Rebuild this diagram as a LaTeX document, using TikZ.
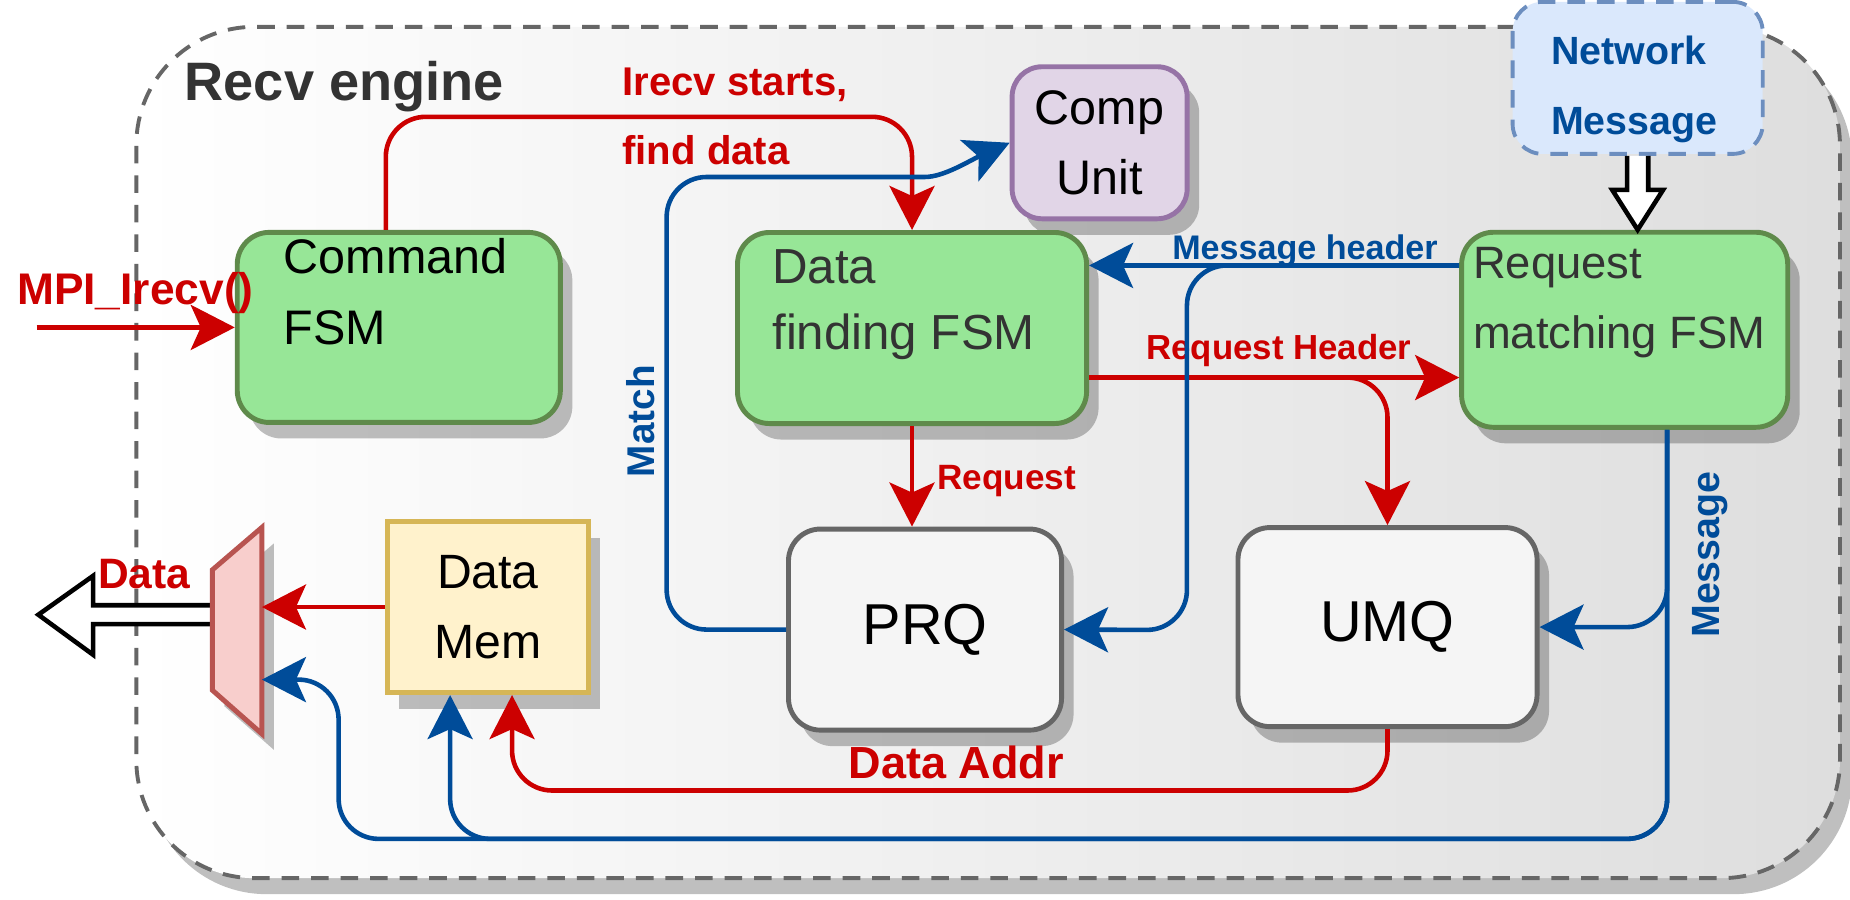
\documentclass[tikz,border=0pt]{standalone}
\usepackage{fontspec}
\setmainfont{Liberation Sans}
\usetikzlibrary{arrows.meta,shadows}

\definecolor{recvred}{HTML}{CC0000}
\definecolor{recvblue}{HTML}{004C99}
\definecolor{textgray}{HTML}{333333}
\definecolor{engline}{HTML}{666666}
\definecolor{fsmfill}{HTML}{97E697}
\definecolor{fsmline}{HTML}{5F8A4B}
\definecolor{netfill}{HTML}{DAE8FC}
\definecolor{netline}{HTML}{6C8EBF}
\definecolor{cufill}{HTML}{E1D5E7}
\definecolor{culine}{HTML}{9673A6}
\definecolor{qfill}{HTML}{F5F5F5}
\definecolor{qline}{HTML}{666666}
\definecolor{memfill}{HTML}{FFF2CC}
\definecolor{memline}{HTML}{D6B656}
\definecolor{muxfill}{HTML}{F8CECC}
\definecolor{muxline}{HTML}{B85450}

\newcommand{\fsz}[2]{\fontsize{#1pt}{#2pt}\selectfont}

\begin{document}
\begin{tikzpicture}[
		x=0.0118cm, y=-0.0118cm,
		>={Stealth[length=0.44cm, width=0.45cm, inset=0.1cm]},
		boxshadow/.style={drop shadow={shadow xshift=0.12cm, shadow yshift=-0.16cm, fill=black, opacity=0.25}},
		engine/.style={draw=engline, line width=1.1pt, dash pattern=on 5pt off 3.4pt, rounded corners=1.18cm, left color=white, right color=black!13, boxshadow},
		netbox/.style={draw=netline, fill=netfill, line width=1.1pt, dash pattern=on 5pt off 3.4pt, rounded corners=0.3cm},
		fsm/.style={draw=fsmline, fill=fsmfill, line width=1.4pt, rounded corners=0.32cm, boxshadow},
		fsmtext/.style={anchor=base west, align=left, inner sep=0pt, text=textgray},
		cubox/.style={draw=culine, fill=cufill, line width=1.4pt, rounded corners=0.3cm, boxshadow},
		queue/.style={draw=qline, fill=qfill, line width=1.4pt, rounded corners=0.32cm, boxshadow, font=\fsz{16.4}{19}},
		membox/.style={draw=memline, fill=memfill, line width=1.4pt, boxshadow},
		muxbox/.style={draw=muxline, fill=muxfill, line width=1.4pt, line join=miter, boxshadow},
		hollow/.style={draw=black, fill=white, line width=1.3pt, line join=miter},
		redcon/.style={draw=recvred, line width=1.3pt, rounded corners=0.4cm, ->},
		bluecon/.style={draw=recvblue, line width=1.3pt, rounded corners=0.4cm, ->},
		redlbl/.style={text=recvred, inner sep=0pt, anchor=base west, align=left},
		bluelbl/.style={text=recvblue, inner sep=0pt}
	]
  \useasboundingbox (0,0) rectangle (1568,762.5);

  % engine frame
  \node (engine) [engine, minimum width=17.03cm, minimum height=8.51cm] at (837.5,383.5) {};
  \node (recv-txt) [anchor=base west, inner sep=0pt, text=textgray, font=\bfseries\fsz{15.4}{18}] at (156,85) {Recv engine};

  % blocks (base of the text = last line)
  \node (net) [netbox, minimum width=2.5cm, minimum height=1.52cm] at (1388,66) {};
  \node (net-txt) [anchor=base west, align=left, inner sep=0pt, text=recvblue, font=\bfseries\fsz{11.2}{19.8}] at (1314,114) {Network\\Message};
  \node (cu) [cubox, minimum width=1.75cm, minimum height=1.52cm, align=center, font=\fsz{13.8}{19.8}] at (932,121) {Comp\\Unit};
  \node (cmd) [fsm, minimum width=3.23cm, minimum height=1.9cm] at (338,277.5) {};
  \node (cmd-txt) [fsmtext, text=black, font=\fsz{13.8}{20.1}] at (240,292) {Command\\FSM};
  \node (dff) [fsm, minimum width=3.49cm, minimum height=1.91cm] at (773,278) {};
  \node (dff-txt) [fsmtext, font=\fsz{14}{18.8}] at (654,296) {Data\\finding FSM};
  \node (rmf) [fsm, minimum width=3.26cm, minimum height=1.95cm] at (1377,279.5) {};
  \node (rmf-txt) [fsmtext, font=\fsz{12.9}{19.9}] at (1248,295) {Request\\matching FSM};
  \node (prq) [queue, minimum width=2.73cm, minimum height=2.01cm] at (784,533.6) {PRQ};
  \node (umq) [queue, minimum width=2.99cm, minimum height=1.99cm] at (1176,531.5) {UMQ};
  \node (dmem) [membox, minimum width=2.01cm, minimum height=1.71cm, align=center, font=\fsz{13.7}{19.9}] at (413.5,514.5) {Data\\Mem};

  \coordinate (mpi-in) at (31,277.5);
  \coordinate (mux-a) at (222,514.5);
  \coordinate (mux-b) at (222,576);
  \coordinate (mux-out) at (180,521);
  \coordinate (data-out) at (32.5,521);

  % wide arrows
  \filldraw[hollow] (net.south -| 1379,0) -- (1379,161) -- (1366.5,161) -- (net.south |- rmf.north) -- (1409.5,161) -- (1397,161) -- (net.south -| 1397,0);
  \filldraw[hollow] (180,513) -- (79,513) -- (79,488) -- (data-out) -- (79,555) -- (79,529) -- (180,529);
  \filldraw[muxbox] (180,483) -- (222,447) -- (222,622) -- (180,585) -- cycle;

  % red connectors
  \draw[redcon] (mpi-in) -- (cmd.west);
  \node (mpi-lbl) [redlbl, font=\bfseries\fsz{12.6}{15}] at (14,258) {MPI\_Irecv()};
  \draw[redcon] (cmd.north -| 327,0) |- (dff.north |- 0,99) -- (dff.north);
  \node (irecv-lbl) [redlbl, font=\bfseries\fsz{11.4}{19.6}] at (527,139) {Irecv starts,\\find data};
  \draw[redcon] (dff.east |- 0,320) -- (rmf.west |- 0,320);
  \draw[redcon] (dff.east |- 0,320) -| (umq.north);
  \node (rqh-lbl) [redlbl, font=\bfseries\fsz{9.9}{12}] at (971,304.5) {Request Header};
  \draw[redcon] (dff.south) -- (dff.south |- prq.north);
  \node (req-lbl) [redlbl, font=\bfseries\fsz{10}{12}] at (794,414.7) {Request};
  \draw[redcon] (umq.south) |- (434,670) -- (dmem.south -| 434,0);
  \node (addr-lbl) [redlbl, font=\bfseries\fsz{12.8}{15}] at (718.6,659.6) {Data Addr};
  \draw[redcon] (dmem.west) -- (mux-a);
  \node (data-lbl) [redlbl, font=\bfseries\fsz{12.1}{15}] at (82.5,498.5) {Data};

  % blue connectors
  \draw[bluecon] (prq.west) -| (565,150) -- (750,150) .. controls (800,150) and (822,136) .. (cu.west);
  \node (match-lbl) [bluelbl, rotate=90, font=\bfseries\fsz{11}{13}] at (542.6,357) {Match};
  \draw[bluecon] (rmf.west |- 0,225) -- (dff.east |- 0,225);
  \draw[bluecon] (rmf.west |- 0,225) -| (1006,534) -- (prq.east);
  \node (mh-lbl) [bluelbl, anchor=base west, font=\bfseries\fsz{9.7}{12}] at (993,220) {Message header};
  \draw[bluecon] (rmf.south -| 1413,0) |- (umq.east);
  \draw[bluecon] (rmf.south -| 1413,0) |- (287,711) |- (mux-b);
  \draw[bluecon] (rmf.south -| 1413,0) |- (381.5,711) -- (dmem.south -| 381.5,0);
  \node (msg-lbl) [bluelbl, rotate=90, font=\bfseries\fsz{11.2}{13}] at (1449,470) {Message};
\end{tikzpicture}
\end{document}
